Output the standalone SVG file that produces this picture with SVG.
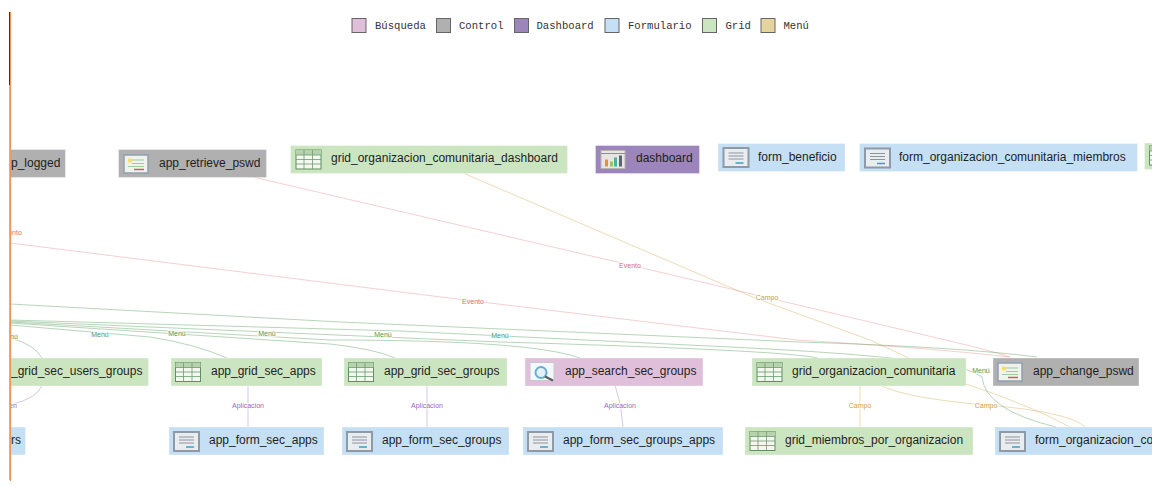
<svg xmlns="http://www.w3.org/2000/svg" xmlns:xlink="http://www.w3.org/1999/xlink" width="1152" height="487" viewBox="0 0 1152 487">
<style>
text{font-family:"Liberation Sans",Arial,sans-serif}
.n{font-size:12px;fill:#1f1f1f}
.l{font-size:7px;text-anchor:middle;paint-order:stroke;stroke:#fff;stroke-width:2px;stroke-opacity:.7}
.lg{font-family:"Liberation Mono","Courier New",monospace;font-size:10.6px;fill:#333}
.sw{stroke:#666;stroke-width:1}
.box{stroke-width:1;stroke-opacity:.35;stroke:#fff}
.grid{fill:#cce5c1}.form{fill:#c5dff4}.ctrl{fill:#b0b0b0}.dash{fill:#9c85bb}.srch{fill:#dfbfd9}.menu{fill:#e6d49f}
.e{fill:none;stroke-width:.8}
.em{stroke:#5a9e5f;stroke-opacity:.55}.ee{stroke:#e58a8a;stroke-opacity:.5}.ec{stroke:#d9b468;stroke-opacity:.6}.ea{stroke:#a57cc4;stroke-opacity:.55}
.tm{fill:#4e9a55}.te{fill:#dc6e6e}.tc{fill:#cf9f3e}.ta{fill:#9b68c0}
</style>
<defs>
<g id="ig"><rect width="25" height="19" fill="#f4f7f0" stroke="#5f8f5f"/><rect width="25" height="5" fill="#b7d3ad"/><path d="M0 5H25M0 9.500H25M0 14H25M8 0V19M16.500 0V19" stroke="#6f9a6f" stroke-width=".8" fill="none"/></g>
<g id="if"><rect width="25" height="19" fill="#e9edf0" stroke="#8e9aa6" stroke-width="2"/><path d="M5 5H20M5 8H20M5 11H20" stroke="#8c949c"/><path d="M12 15H20" stroke="#3d9dc4" stroke-width="1.500"/></g>
<g id="ic"><rect width="24" height="18" fill="#f1f2ec" stroke="#8ea0b4" stroke-width="1.500"/><path d="M8 5H20M8 8.500H20M4 11.500H20" stroke="#9ccb9c"/><path d="M10 14.500H20" stroke="#c96060" stroke-width="1.500"/><circle cx="6" cy="5.500" r="2.200" fill="#f3e25a"/></g>
<g id="id"><rect width="24" height="18" fill="#e8e6e2" stroke="#b7b4ae"/><path d="M0 3H24" stroke="#8f8f8f"/><rect x="4" y="9" width="3" height="7" fill="#f0883e"/><rect x="9" y="11" width="3" height="5" fill="#9fc26a"/><rect x="13" y="7" width="3" height="9" fill="#48b5a0"/><rect x="18" y="5" width="3" height="11" fill="#5b6470"/></g>
<g id="is"><path d="M1 0H25V18H1Z" fill="#f5f8fa" stroke="#c2c8cc"/><circle cx="12" cy="10" r="5.500" fill="#e4f1f7" stroke="#62afd3" stroke-width="2"/><path d="M16 14L24 18" stroke="#5a5a5a" stroke-width="2"/></g>
<clipPath id="c"><rect x="10" y="0" width="1142" height="487"/></clipPath>
</defs>

<g id="legend">
<rect class="sw srch" x="352" y="18.500" width="14" height="14"/><text class="lg" x="375" y="29">Búsqueda</text>
<rect class="sw ctrl" x="436.500" y="18.500" width="14" height="14"/><text class="lg" x="459" y="29">Control</text>
<rect class="sw dash" x="514.500" y="18.500" width="14" height="14"/><text class="lg" x="536.500" y="29">Dashboard</text>
<rect class="sw form" x="605" y="18.500" width="14" height="14"/><text class="lg" x="628" y="29">Formulario</text>
<rect class="sw grid" x="702.500" y="18.500" width="14" height="14"/><text class="lg" x="725.500" y="29">Grid</text>
<rect class="sw menu" x="761" y="18.500" width="14" height="14"/><text class="lg" x="783.500" y="29">Menú</text>
</g>

<g id="connectors" clip-path="url(#c)">
<path class="e ee" d="M253 177L630 265L937 338Q985 349 1010 357"/>
<path class="e ee" d="M10 243L473 301L797 340Q930 348 1010 357"/>
<path class="e ec" d="M463 173L755 298L870 340L963 383Q1030 405 1070 427"/>
<path class="e ec" d="M880 385Q905 398 986 405Q1070 412 1085 427"/>
<path class="e ec" d="M860 385V427"/>
<path class="e ea" d="M248 385V427"/>
<path class="e ea" d="M427 385V427"/>
<path class="e ea" d="M615 385Q622 405 623 427"/>
<path class="e ea" d="M42 385Q38 398 10 405"/>
<path class="e em" d="M10 304L340 322L800 342Q960 347 1037 357"/>
<path class="e em" d="M10 321L500 342Q780 350 818 358"/>
<path class="e em" d="M10 322L330 340Q530 340 580 358"/>
<path class="e em" d="M10 323L330 344Q375 349 395 358"/>
<path class="e em" d="M10 325L150 337Q195 344 227 358"/>
<path class="e em" d="M10 320L400 331L730 347Q900 355 962 368Q975 372 982 377Q985 410 1056 427"/>
<path class="e em" d="M10 338Q34 344 42 358"/>
<text class="l te" x="15" y="235">ento</text>
<text class="l te" x="630" y="268">Evento</text>
<text class="l te" x="473" y="304">Evento</text>
<text class="l tc" x="767" y="300">Campo</text>
<text class="l tm" x="14" y="339">nú</text>
<text class="l tm" x="100" y="337">Menú</text>
<text class="l tm" x="177" y="336">Menú</text>
<text class="l tm" x="267" y="336">Menú</text>
<text class="l tm" x="383" y="337">Menú</text>
<text class="l tm" x="500" y="338">Menú</text>
<text class="l tm" x="981" y="373">Menú</text>
<text class="l ta" x="13" y="408">en</text>
<text class="l ta" x="248" y="408">Aplicacion</text>
<text class="l ta" x="427" y="408">Aplicacion</text>
<text class="l ta" x="620" y="408">Aplicacion</text>
<text class="l tc" x="860" y="408">Campo</text>
<text class="l tc" x="986" y="408">Campo</text>
</g>

<g id="n_app_logged"><rect class="box ctrl" x="10.500" y="149.500" width="55" height="28"/><text class="n" x="11" y="167">p_logged</text></g>
<g id="n_app_retrieve_pswd"><rect class="box ctrl" x="118.500" y="149.500" width="148" height="28"/><use href="#ic" x="124" y="155"/><text class="n" x="159" y="167">app_retrieve_pswd</text></g>
<g id="n_grid_dashboard"><rect class="box grid" x="290.500" y="145.500" width="277" height="28"/><use href="#ig" x="296" y="150"/><text class="n" x="331" y="162">grid_organizacion_comunitaria_dashboard</text></g>
<g id="n_dashboard"><rect class="box dash" x="595.500" y="145.500" width="104" height="28"/><use href="#id" x="601" y="150.500"/><text class="n" x="636" y="162">dashboard</text></g>
<g id="n_form_beneficio"><rect class="box form" x="718" y="143.500" width="127" height="28"/><use href="#if" x="723.500" y="148"/><text class="n" x="758" y="161">form_beneficio</text></g>
<g id="n_form_miembros"><rect class="box form" x="859.500" y="143.500" width="278" height="28"/><use href="#if" x="865" y="148.500"/><text class="n" x="899" y="161">form_organizacion_comunitaria_miembros</text></g>
<g id="n_grid_cut"><rect class="box grid" x="1144.500" y="143" width="9" height="26.500"/><use href="#ig" x="1149.500" y="146"/></g>
<g id="n_users_groups"><rect class="box grid" x="10.500" y="358" width="138" height="28"/><text class="n" x="11" y="375">_grid_sec_users_groups</text></g>
<g id="n_form_users"><rect class="box form" x="10.500" y="427" width="15" height="28"/><text class="n" x="11" y="444">rs</text></g>
<g id="n_grid_apps"><rect class="box grid" x="171" y="358" width="151" height="28"/><use href="#ig" x="175.500" y="362.500"/><text class="n" x="211" y="375">app_grid_sec_apps</text></g>
<g id="n_form_apps"><rect class="box form" x="169" y="427" width="155" height="28"/><use href="#if" x="174" y="432"/><text class="n" x="209" y="444">app_form_sec_apps</text></g>
<g id="n_grid_groups"><rect class="box grid" x="344" y="358" width="163" height="28"/><use href="#ig" x="348.500" y="362.500"/><text class="n" x="384" y="375">app_grid_sec_groups</text></g>
<g id="n_form_groups"><rect class="box form" x="342" y="427" width="167" height="28"/><use href="#if" x="347" y="432"/><text class="n" x="382" y="444">app_form_sec_groups</text></g>
<g id="n_search_groups"><rect class="box srch" x="525" y="358" width="178" height="28"/><use href="#is" x="529" y="362.500"/><text class="n" x="565" y="375">app_search_sec_groups</text></g>
<g id="n_form_groups_apps"><rect class="box form" x="523" y="427" width="200" height="28"/><use href="#if" x="528" y="432"/><text class="n" x="563" y="444">app_form_sec_groups_apps</text></g>
<g id="n_grid_org"><rect class="box grid" x="752" y="358" width="214" height="28"/><use href="#ig" x="757" y="362.500"/><text class="n" x="792" y="375">grid_organizacion_comunitaria</text></g>
<g id="n_change_pswd"><rect class="box ctrl" x="993" y="358" width="146" height="28"/><use href="#ic" x="998" y="363"/><text class="n" x="1033" y="375">app_change_pswd</text></g>
<g id="n_grid_miembros"><rect class="box grid" x="745" y="427" width="228" height="28"/><use href="#ig" x="750" y="431.500"/><text class="n" x="785" y="444">grid_miembros_por_organizacion</text></g>
<g id="n_form_org"><rect class="box form" x="995" y="427" width="160" height="28"/><use href="#if" x="1000" y="432"/><text class="n" x="1035" y="444">form_organizacion_co</text></g>

<g id="frame">
<path d="M9.500 12V85" stroke="#222" stroke-width="1"/>
<path d="M9.500 85V480" stroke="#bbb" stroke-width="1"/>
<path d="M10.500 12V481" stroke="#f0965c" stroke-width="1.300"/>
</g>
</svg>
